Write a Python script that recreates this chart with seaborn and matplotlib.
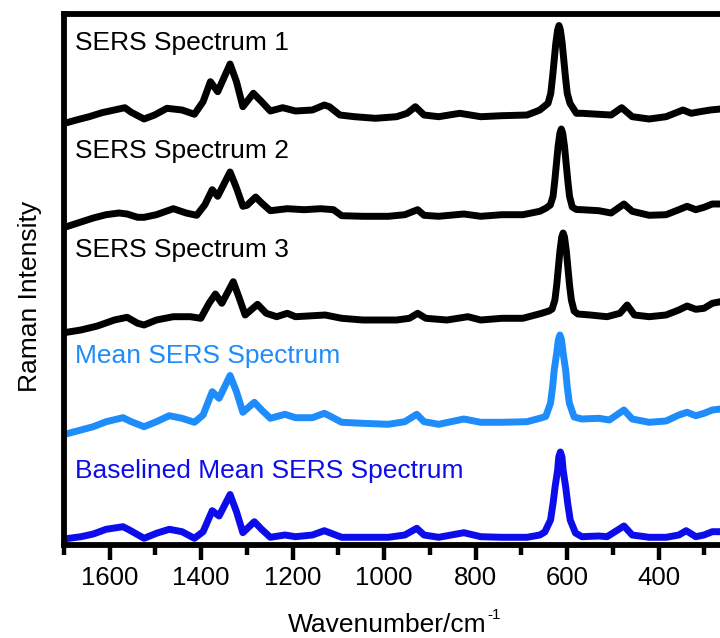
import matplotlib
matplotlib.use("Agg")
import matplotlib.pyplot as plt
import seaborn as sns
import pandas as pd
from matplotlib.ticker import MultipleLocator
from matplotlib.transforms import blended_transform_factory

# ---- spectra: Raman shift (cm^-1) and intensity (a.u., own baseline) ----
wn_s1 = [1700, 1673, 1645, 1617, 1590, 1567, 1553, 1525, 1502, 1475, 1442, 1415,
         1396, 1380, 1364, 1337, 1323, 1309, 1286, 1268, 1249, 1222, 1194, 1157,
         1131, 1120, 1097, 1065, 1019, 973, 950, 932, 913, 881, 835, 789, 743,
         688, 669, 660, 642, 636, 632, 628.5, 625, 621, 618, 615, 611, 607.5,
         604, 600, 594, 580, 568, 531, 504, 481, 458, 421, 384, 347, 329, 310,
         287, 265]
int_s1 = [1.5, 5.0, 8.3, 12.3, 15.0, 17.3, 12.7, 6.0, 10.0, 16.7, 15.0, 10.7,
          23.3, 43.3, 33.3, 61.0, 43.3, 18.3, 31.7, 23.3, 14.0, 17.3, 14.0, 15.0,
          20.0, 18.3, 10.0, 8.3, 6.7, 8.3, 11.7, 18.3, 10.0, 8.3, 11.7, 8.3, 9.3,
          10.0, 13.3, 15.0, 21.7, 31.7, 48.3, 65.0, 81.7, 95.0, 99.5, 95.0, 81.7,
          65.0, 48.3, 31.7, 21.7, 11.7, 11.7, 10.7, 10.0, 17.3, 8.3, 6.0, 8.3,
          15.0, 11.7, 13.3, 15.0, 16.0]

wn_s2 = [1700, 1663, 1636, 1608, 1580, 1562, 1539, 1525, 1498, 1461, 1433, 1410,
         1392, 1376, 1364, 1337, 1323, 1309, 1300, 1281, 1268, 1249, 1212, 1175,
         1139, 1111, 1093, 1047, 991, 955, 927, 913, 881, 826, 789, 743, 697,
         660, 646, 637, 631, 627, 623.5, 620, 616, 613, 610, 606, 602.5, 599,
         595, 589, 580, 568, 531, 504, 476, 458, 421, 384, 356, 338, 319, 301,
         283, 265]
int_s2 = [0.5, 6.0, 10.0, 13.3, 15.0, 14.0, 10.7, 10.7, 13.3, 19.3, 15.0, 12.7,
          23.3, 38.3, 31.7, 56.0, 40.0, 21.7, 22.7, 31.0, 25.0, 17.3, 19.3, 18.3,
          19.3, 18.3, 12.3, 11.7, 11.7, 13.3, 18.3, 12.7, 11.7, 14.0, 11.7, 13.3,
          13.3, 16.7, 20.0, 23.0, 31.7, 48.3, 65.0, 81.7, 95.0, 99.0, 95.0, 81.7,
          65.0, 48.3, 31.7, 21.0, 18.5, 18.3, 17.3, 15.0, 24.0, 16.7, 12.7, 13.3,
          18.3, 21.7, 18.3, 20.7, 24.0, 24.0]

wn_s3 = [1700, 1663, 1627, 1590, 1562, 1539, 1525, 1498, 1461, 1424, 1401, 1383,
         1369, 1355, 1330, 1318, 1304, 1277, 1258, 1235, 1212, 1194, 1129, 1093,
         1047, 973, 945, 927, 909, 863, 817, 789, 743, 697, 656, 640, 633, 627,
         623, 619.5, 616, 612, 609, 606, 602, 598.5, 595, 591, 585, 577, 550,
         513, 485, 469, 453, 421, 384, 356, 338, 319, 301, 283, 265]
int_s3 = [2.3, 5.0, 9.0, 15.0, 17.7, 11.7, 10.0, 15.0, 18.3, 18.3, 16.7, 31.7,
          41.0, 31.7, 53.3, 38.3, 20.0, 30.7, 21.7, 18.3, 21.7, 18.3, 20.0, 16.7,
          15.0, 15.0, 16.7, 21.7, 16.7, 15.0, 18.3, 15.0, 16.7, 16.7, 21.7, 24.0,
          26.0, 35.0, 50.0, 67.0, 84.0, 98.0, 102.0, 98.0, 84.0, 67.0, 50.0, 35.0,
          24.0, 21.0, 20.0, 18.3, 21.7, 30.0, 20.0, 18.3, 20.0, 25.0, 29.0, 25.7,
          26.7, 31.7, 33.3]

wn_mean = [1700, 1663, 1636, 1608, 1571, 1553, 1525, 1498, 1470, 1442, 1415, 1396,
           1376, 1361, 1337, 1323, 1309, 1284, 1268, 1249, 1217, 1194, 1157, 1131,
           1116, 1093, 1047, 991, 955, 929, 913, 881, 826, 789, 743, 688, 660,
           647, 636.5, 632, 628.5, 623, 619.5, 616, 612.5, 609, 603.5, 600, 595.5,
           585, 568, 531, 508, 476, 458, 421, 384, 356, 338, 319, 301, 283, 265]
int_mean = [2.5, 7.0, 10.3, 15.3, 19.3, 15.3, 10.3, 15.3, 21.3, 18.7, 14.7, 22.0,
            45.3, 38.7, 61.5, 45.3, 24.7, 34.7, 27.0, 18.7, 22.7, 19.3, 19.3, 23.7,
            20.3, 14.7, 13.7, 12.7, 15.3, 22.7, 15.3, 12.7, 18.0, 14.7, 14.7, 15.3,
            18.7, 20.5, 34.0, 50.0, 67.0, 84.0, 97.0, 102.0, 97.0, 84.0, 67.0, 50.0,
            34.0, 20.0, 18.0, 18.7, 17.0, 27.0, 18.0, 14.7, 16.0, 22.0, 24.7, 21.3,
            23.7, 27.0, 28.0]

wn_base = [1700, 1663, 1636, 1608, 1571, 1557, 1525, 1498, 1470, 1442, 1415, 1396,
           1376, 1361, 1337, 1323, 1309, 1284, 1268, 1249, 1217, 1194, 1157, 1131,
           1116, 1093, 1047, 991, 955, 929, 913, 881, 826, 789, 743, 688, 660,
           649, 636.5, 631, 626.5, 621, 618.5, 615, 611.5, 609, 603.5, 599, 593.5,
           582, 568, 531, 513, 476, 458, 421, 384, 356, 340, 319, 301, 283, 265]
int_base = [6.0, 8.3, 11.0, 15.7, 18.3, 15.0, 6.7, 11.7, 15.7, 13.3, 6.7, 13.3,
            34.3, 29.0, 50.5, 33.3, 12.3, 23.3, 15.7, 7.7, 10.0, 8.3, 10.0, 14.3,
            11.7, 7.7, 7.7, 7.7, 10.0, 16.7, 10.0, 7.7, 12.3, 8.3, 7.7, 7.7, 10.0,
            13.0, 25.0, 41.7, 58.3, 75.0, 88.0, 93.0, 88.0, 75.0, 58.3, 41.7, 25.0,
            12.0, 8.3, 9.0, 8.3, 19.0, 10.0, 7.7, 7.7, 10.0, 14.3, 8.3, 10.0, 13.3,
            13.3]

names = ["SERS Spectrum 1", "SERS Spectrum 2", "SERS Spectrum 3",
         "Mean SERS Spectrum", "Baselined Mean SERS Spectrum"]
shifts = [wn_s1, wn_s2, wn_s3, wn_mean, wn_base]
intensities = [int_s1, int_s2, int_s3, int_mean, int_base]

# ---- styling / layout ----
colors = ["#000000", "#000000", "#000000", "#1E8CFA", "#0D0DEB"]
stack_offsets = [420, 317, 210, 108, 0]
name_y = [495, 387, 288, 182, 67]

sns.set_theme(style="white")
plt.rcParams["font.family"] = ["Liberation Sans", "DejaVu Sans"]

W, H = 720, 638
fig = plt.figure(figsize=(W / 100, H / 100), dpi=100)
ax = fig.add_axes([64 / W, 93 / H, 656.5 / W, 531.2 / H])

frames = []
for name, x, y, off in zip(names, shifts, intensities, stack_offsets):
    frames.append(pd.DataFrame({"shift": x,
                                "intensity": [v + off for v in y],
                                "spectrum": name}))
data = pd.concat(frames, ignore_index=True)

for name, color in zip(names, colors):
    sub = data[data["spectrum"] == name]
    sns.lineplot(data=sub, x="shift", y="intensity", ax=ax, color=color,
                 linewidth=5.0, estimator=None, sort=False,
                 solid_joinstyle="round", solid_capstyle="round", legend=False)

trans = blended_transform_factory(ax.transAxes, ax.transData)
for name, color, ty in zip(names, colors, name_y):
    ax.text(0.017, ty, name, transform=trans, color=color, fontsize=19,
            ha="left", va="baseline")

ax.set_xlim(1700, 265)
ax.set_ylim(0, 531.2)

for side in ["left", "top", "bottom"]:
    ax.spines[side].set_visible(True)
    ax.spines[side].set_linewidth(4.2)
    ax.spines[side].set_color("black")
ax.spines["right"].set_visible(False)

ax.xaxis.set_major_locator(MultipleLocator(200))
ax.xaxis.set_minor_locator(MultipleLocator(100))
ax.tick_params(axis="x", which="major", bottom=True, top=False, direction="out",
               length=10.8, width=3.2, color="black", labelsize=18.5, pad=4,
               labelcolor="black")
ax.tick_params(axis="x", which="minor", bottom=True, top=False, direction="out",
               length=7.2, width=3.2, color="black")
ax.tick_params(axis="y", which="both", left=False, right=False, labelleft=False)
ax.set_xlabel("")
ax.set_ylabel("")

# axis titles
xlab = fig.text(288 / W, 1 - 632.5 / H, "Wavenumber/cm", fontsize=19,
                ha="left", va="baseline", color="black")
fig.canvas.draw()
ext = xlab.get_window_extent(renderer=fig.canvas.get_renderer())
fig.text((ext.x1 + 1) / W, 1 - 619 / H, "-1", fontsize=11,
         ha="left", va="baseline", color="black")
fig.text(30 / W, 1 - 296.5 / H, "Raman Intensity", rotation=90,
         ha="center", va="center", fontsize=19, color="black")

fig.savefig("out.png", dpi=100)
